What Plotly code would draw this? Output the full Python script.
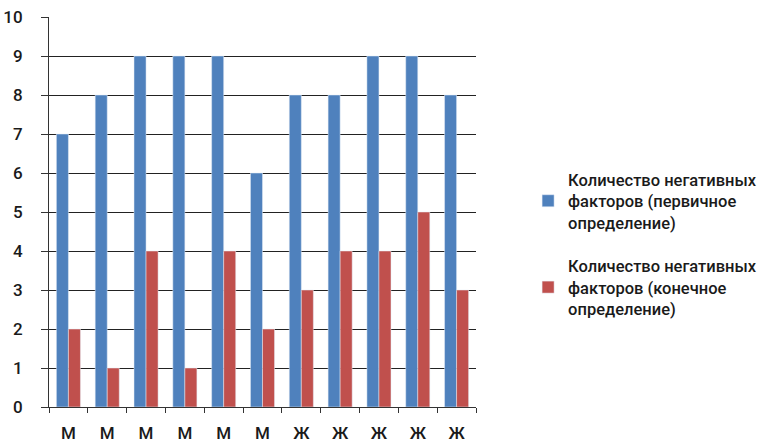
import plotly.graph_objects as go

categories = ["М", "М", "М", "М", "М", "М", "Ж", "Ж", "Ж", "Ж", "Ж"]
primary = [7, 8, 9, 9, 9, 6, 8, 8, 9, 9, 8]
final = [2, 1, 4, 1, 4, 2, 3, 4, 4, 5, 3]
y_ticks = list(range(0, 11))
name1 = "Количество негативных<br>факторов (первичное<br>определение)"
name2 = "Количество негативных<br>факторов (конечное<br>определение)"

xs = list(range(len(categories)))

fig = go.Figure()
fig.add_trace(go.Bar(x=xs, y=primary, name=name1, marker_color="#4F81BD", legendgroup="a"))
fig.add_trace(go.Bar(x=xs, y=final, name=name2, marker_color="#C0504D", legendgroup="b"))

fig.update_layout(
    width=764, height=442,
    margin=dict(l=49, r=288, t=17, b=35, autoexpand=False),
    paper_bgcolor="white", plot_bgcolor="white",
    barmode="group", bargap=0.38, bargroupgap=0,
    font=dict(family="Roboto", size=17, color="#1a1a1a"),
    legend=dict(x=1.122, y=0.628, xanchor="left", yanchor="top",
                tracegroupgap=19, font=dict(family="Roboto", size=16.5, color="#1a1a1a", weight=500),
                itemwidth=30),
    showlegend=True,
)
fig.update_xaxes(
    tickmode="array", tickvals=xs, ticktext=categories,
    range=[-0.5, len(categories) - 0.5],
    ticks="", showgrid=False, showline=True, linecolor="#333", linewidth=1,
    minor=dict(tick0=-0.5, dtick=1, ticks="outside", ticklen=5, tickcolor="#333", showgrid=False),
    tickfont=dict(family="Roboto", size=17, color="#1a1a1a", weight=500),
    ticklabelstandoff=11, ticklabeloverflow="allow", automargin=False,
)
fig.update_yaxes(
    range=[0, 10], tickvals=y_ticks, showgrid=True, gridcolor="#222", gridwidth=1,
    showline=True, linecolor="#333", linewidth=1, ticks="outside", ticklen=7, tickcolor="#333",
    tickfont=dict(family="Roboto", size=17, color="#1a1a1a", weight=500), zeroline=False,
    ticklabelstandoff=15, ticklabeloverflow="allow", automargin=False,
)
fig.write_html("out.html",
               config={"displayModeBar": False},
               post_script="document.body.style.margin='0';document.body.style.overflow='hidden';")
